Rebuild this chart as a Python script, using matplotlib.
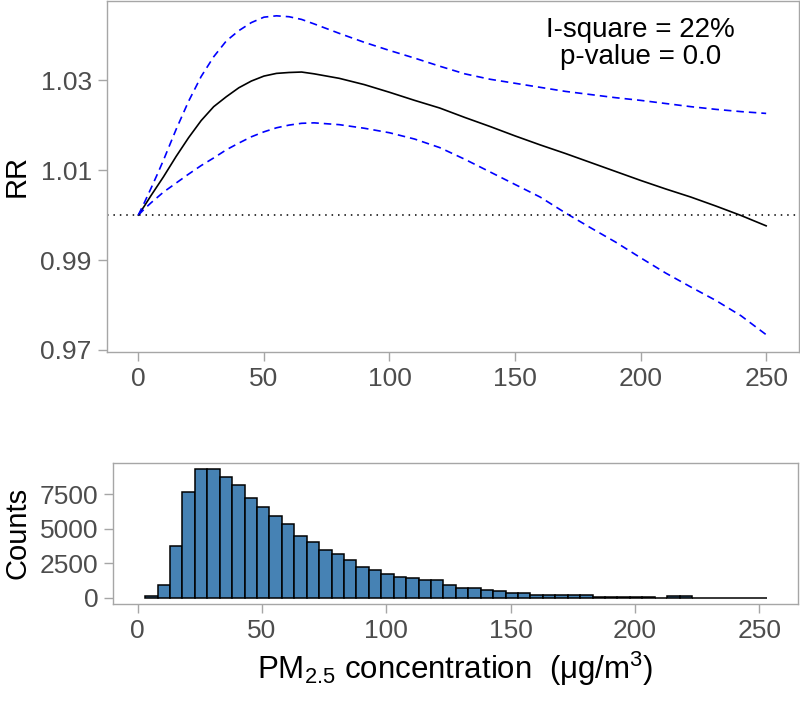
import numpy as np
import matplotlib
matplotlib.use("Agg")
import matplotlib.pyplot as plt

plt.rcParams["font.family"] = ["Liberation Sans", "DejaVu Sans"]
plt.rcParams["mathtext.fontset"] = "custom"
plt.rcParams["mathtext.rm"] = "Liberation Sans"
plt.rcParams["mathtext.it"] = "Liberation Sans:italic"

# ── exposure-response curve ────────────────────────────────
pm = [0, 2.5, 5, 7.5, 10, 15, 20, 25, 30, 35, 40, 45, 50, 55, 60, 65, 70,
      80, 90, 100, 110, 120, 130, 140, 150, 160, 170, 180, 190, 200,
      210, 220, 230, 240, 250]
rr = [1.0000, 1.0021, 1.0043, 1.0064, 1.0085, 1.0130, 1.0172, 1.0210,
      1.0241, 1.0263, 1.0283, 1.0298, 1.0309, 1.0315, 1.0317, 1.0318,
      1.0314, 1.0304, 1.0290, 1.0273, 1.0255, 1.0238, 1.0217, 1.0197,
      1.0176, 1.0156, 1.0137, 1.0117, 1.0097, 1.0077, 1.0058, 1.0040,
      1.0020, 0.9999, 0.9976]
rr_upper = [1.0000, 1.0029, 1.0059, 1.0090, 1.0122, 1.0190, 1.0253, 1.0308,
            1.0352, 1.0387, 1.0410, 1.0428, 1.0440, 1.0443, 1.0441, 1.0435,
            1.0425, 1.0404, 1.0384, 1.0366, 1.0349, 1.0331, 1.0314, 1.0302,
            1.0293, 1.0284, 1.0275, 1.0268, 1.0261, 1.0255, 1.0248, 1.0241,
            1.0235, 1.0230, 1.0226]
rr_lower = [1.0000, 1.0014, 1.0027, 1.0039, 1.0051, 1.0071, 1.0091, 1.0110,
            1.0127, 1.0145, 1.0160, 1.0174, 1.0185, 1.0194, 1.0200, 1.0204,
            1.0205, 1.0201, 1.0193, 1.0183, 1.0169, 1.0150, 1.0124, 1.0096,
            1.0068, 1.0040, 1.0005, 0.9972, 0.9940, 0.9905, 0.9871, 0.9840,
            0.9810, 0.9776, 0.9734]

# ── histogram of PM2.5 (bin width 5, first edge 3) ─────────
bin_start = 3
bin_width = 5
counts = [100, 950, 3770, 7680, 9330, 9330, 8750, 8170, 7200, 6590,
          5900, 5320, 4470, 4010, 3430, 3160, 2730, 2220, 2010, 1740,
          1520, 1420, 1260, 1260, 920, 720, 720, 580, 460, 340,
          340, 200, 200, 200, 200, 220, 80, 80, 80, 80,
          80, 0, 90, 90, 10, 10, 10, 10, 10, 10]

rr_ticks = [0.97, 0.99, 1.01, 1.03]
count_ticks = [0, 2500, 5000, 7500]
x_ticks = [0, 50, 100, 150, 200, 250]

spine_col = "#A6A6A6"
tick_col = "#4D4D4D"

fig = plt.figure(figsize=(8, 7.02), dpi=100)

# ── top panel: RR curve ───────────────────────────────────
ax1 = fig.add_axes([0.1334, 0.4986, 0.8654, 0.5000])
ax1.plot(pm, rr, color="black", lw=1.2)
ax1.plot(pm, rr_upper, color="blue", lw=1.2, dashes=(4.5, 3))
ax1.plot(pm, rr_lower, color="blue", lw=1.2, dashes=(4.5, 3))
ax1.axhline(1.0, color="black", lw=1.1, dashes=(1, 3.2))
ax1.set_xlim(-12.6, 263.1)
ax1.set_ylim(0.96955, 1.0476)
ax1.set_yticks(rr_ticks)
ax1.set_yticklabels([f"{t:.2f}" for t in rr_ticks])
ax1.set_xticks(x_ticks)
ax1.set_ylabel("RR", fontsize=21)
ax1.yaxis.set_label_coords(-0.1298, 0.5)
ax1.yaxis.label.set_va("center")
ax1.text(200, 1.0411, "I-square = 22%", fontsize=20, ha="center", va="center")
ax1.text(200, 1.0351, "p-value = 0.0", fontsize=20, ha="center", va="center")

# ── bottom panel: counts histogram ────────────────────────
ax2 = fig.add_axes([0.1413, 0.1396, 0.8562, 0.2013])
lefts = [bin_start + i * bin_width for i in range(len(counts))]
ax2.bar(lefts, counts, width=bin_width, align="edge",
        color="#4682B4", edgecolor="black", linewidth=1.1)
ax2.set_xlim(-9.9, 265.6)
ax2.set_ylim(-457, 9783)
ax2.set_yticks(count_ticks)
ax2.set_xticks(x_ticks)
ax2.set_ylabel("Counts", fontsize=21)
ax2.yaxis.set_label_coords(-0.1401, 0.5)
ax2.yaxis.label.set_va("center")
ax2.set_xlabel("PM$_{2.5}$ concentration  (\u03bcg/m$^3$)", fontsize=22.5)
ax2.xaxis.set_label_coords(0.5, -0.46)
ax2.xaxis.label.set_va("center")

for ax in (ax1, ax2):
    for s in ax.spines.values():
        s.set_color(spine_col)
        s.set_linewidth(1.0)
    ax.tick_params(axis="both", direction="out", length=6.7, width=1.0,
                   color=spine_col, labelcolor=tick_col, labelsize=19, pad=4)

fig.savefig("out.png", dpi=100)
